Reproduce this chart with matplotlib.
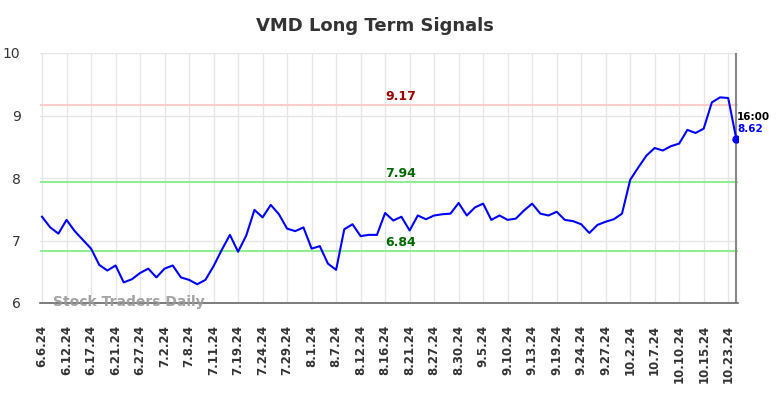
import matplotlib
matplotlib.use("Agg")
import matplotlib.pyplot as plt

# data
prices = [
    7.38, 7.21, 7.11, 7.33, 7.15, 7.01, 6.87, 6.61, 6.52, 6.60,
    6.33, 6.38, 6.48, 6.55, 6.41, 6.55, 6.60, 6.41, 6.37, 6.30,
    6.37, 6.59, 6.85, 7.09, 6.82, 7.08, 7.49, 7.37, 7.57, 7.42,
    7.19, 7.15, 7.21, 6.87, 6.91, 6.63, 6.53, 7.18, 7.26, 7.07,
    7.09, 7.09, 7.44, 7.32, 7.38, 7.16, 7.40, 7.34, 7.40, 7.42,
    7.43, 7.60, 7.40, 7.53, 7.59, 7.33, 7.40, 7.33, 7.35, 7.48,
    7.59, 7.43, 7.40, 7.46, 7.33, 7.31, 7.26, 7.12, 7.25, 7.30,
    7.34, 7.43, 7.97, 8.17, 8.36, 8.48, 8.44, 8.51, 8.55, 8.77,
    8.72, 8.79, 9.21, 9.29, 9.28, 8.62,
]
tick_labels = [
    "6.6.24", "6.12.24", "6.17.24", "6.21.24", "6.27.24", "7.2.24",
    "7.8.24", "7.11.24", "7.19.24", "7.24.24", "7.29.24", "8.1.24",
    "8.7.24", "8.12.24", "8.16.24", "8.21.24", "8.27.24", "8.30.24",
    "9.5.24", "9.10.24", "9.13.24", "9.19.24", "9.24.24", "9.27.24",
    "10.2.24", "10.7.24", "10.10.24", "10.15.24", "10.23.24",
]
resistance = 9.17
supports = [7.94, 6.84]
last_time = "16:00"

x = list(range(len(prices)))
tick_pos = list(range(0, len(prices), 3))

fig = plt.figure(figsize=(7.84, 3.98), dpi=100)
ax = fig.add_axes([40 / 784, 1 - 303 / 398, 698 / 784, 250 / 398])

ax.set_xlim(-0.25, len(prices) - 1 + 0.2)
ax.set_ylim(6, 10)

# grid
ax.set_xticks(tick_pos)
ax.set_yticks([6, 7, 8, 9, 10])
ax.grid(True, color="#e6e6e6", linewidth=1)
ax.set_axisbelow(True)
for s in ["top", "right", "left"]:
    ax.spines[s].set_visible(False)
ax.spines["bottom"].set_color("#666666")
ax.spines["bottom"].set_linewidth(1.2)
ax.tick_params(axis="both", length=0)
ax.tick_params(axis="y", pad=14, labelsize=10, labelcolor="#333333")
ax.tick_params(axis="x", pad=16)
ax.set_xticklabels(tick_labels, rotation=90, fontsize=8.5,
                   fontweight="bold", color="#333333", va="top")

# signal lines
ax.axhline(resistance, color="#ffcccc", linewidth=1.5, zorder=1)
for s in supports:
    ax.axhline(s, color="#90ee90", linewidth=1.5, zorder=1)
label_x = 42
ax.text(label_x, resistance + 0.03, f"{resistance:.2f}", color="#990000",
        fontsize=9, fontweight="bold", va="bottom")
for s in supports:
    ax.text(label_x, s + 0.03, f"{s:.2f}", color="#006600",
            fontsize=9, fontweight="bold", va="bottom")

# price line
ax.plot(x, prices, color="#0000ff", linewidth=1.5, zorder=3)
ax.plot(x[-1], prices[-1], "o", color="#0000ff", markersize=5, zorder=4)
ax.axvline(x[-1], color="#888888", linewidth=1.5, zorder=2)

ax.text(x[-1] + 0.1, prices[-1] + 0.28, last_time, fontsize=7.5,
        fontweight="bold", color="black", va="bottom", ha="left")
ax.text(x[-1] + 0.1, prices[-1] + 0.08, f"{prices[-1]:.2f}", fontsize=7.5,
        fontweight="bold", color="#0000ff", va="bottom", ha="left")

# watermark
ax.text(1.4, 6.02, "Stock Traders Daily", fontsize=10, fontweight="bold",
        color="#999999", va="center", ha="left", alpha=0.9)

fig.text(375 / 784, 1 - 26 / 398, "VMD Long Term Signals", ha="center",
         va="center", fontsize=13, fontweight="bold", color="#333333")

plt.savefig("out.png", dpi=100)
